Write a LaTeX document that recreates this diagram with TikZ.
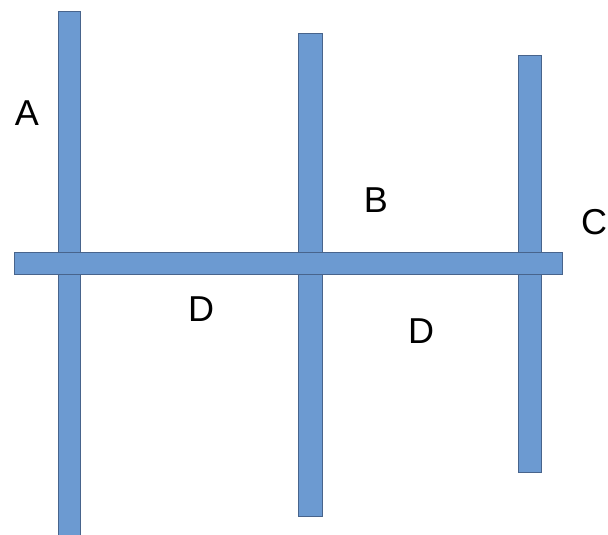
\documentclass[tikz,border=0pt]{standalone}
\usepackage{fontspec}
\setmainfont{Liberation Sans}
\definecolor{barfill}{RGB}{108,154,209}
\definecolor{barline}{RGB}{72,100,140}
\begin{document}
\begin{tikzpicture}[x=1pt,y=-1pt,
  bar/.style={draw=barline,fill=barfill,line width=0.8pt,inner sep=0pt,outer sep=0pt},
  lbl/.style={inner sep=0pt,font=\fontsize{36}{40}\selectfont}]
\useasboundingbox (0,0) rectangle (608,535);
\path[bar] (58,11) rectangle (80,536) coordinate (v1);
\path[bar] (298,33) rectangle (322,516) coordinate (v2);
\path[bar] (518,55) rectangle (541,472) coordinate (v3);
\path[bar] (14,252) rectangle (562,274) coordinate (h);
\node[lbl] (A) at (27,113) {A};
\node[lbl] (B) at (376,200) {B};
\node[lbl] (C) at (594,222) {C};
\node[lbl] (D1) at (201,309) {D};
\node[lbl] (D2) at (421,331) {D};
\end{tikzpicture}
\end{document}
